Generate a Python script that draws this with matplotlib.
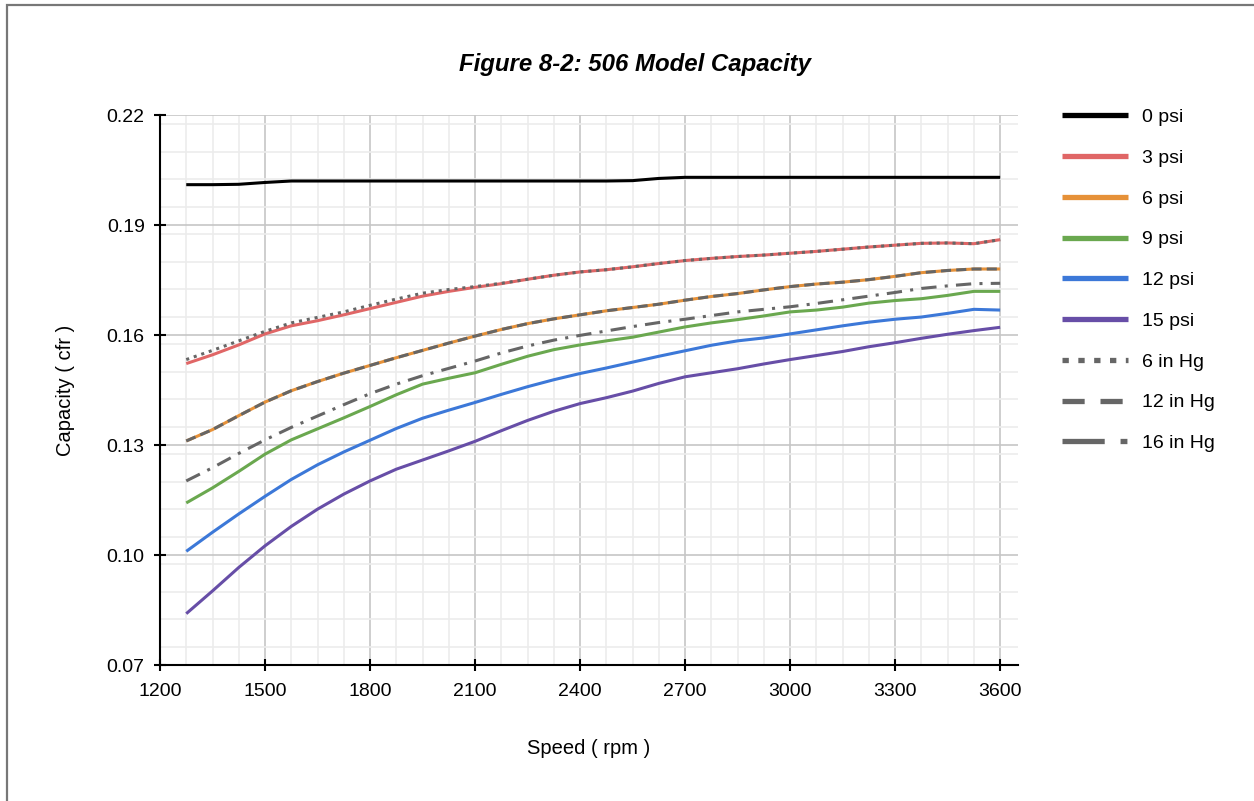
import numpy as np
import matplotlib
matplotlib.use("Agg")
import matplotlib.pyplot as plt
from matplotlib.lines import Line2D
from matplotlib.patches import Rectangle
from matplotlib.ticker import MultipleLocator

plt.rcParams['font.family'] = ['Liberation Sans', 'DejaVu Sans']

# speed (rpm)
rpm = [1275, 1350, 1425, 1500, 1575, 1650, 1725, 1800, 1875, 1950, 2025,
       2100, 2175, 2250, 2325, 2400, 2475, 2550, 2625, 2700, 2775, 2850,
       2925, 3000, 3075, 3150, 3225, 3300, 3375, 3450, 3525, 3600]

# capacity (cfr) per boost / vacuum level
psi_0 = [0.2010, 0.2010, 0.2011, 0.2016, 0.2020, 0.2020, 0.2020, 0.2020, 0.2020, 0.2020, 0.2020,
         0.2020, 0.2020, 0.2020, 0.2020, 0.2020, 0.2020, 0.2021, 0.2027, 0.2030, 0.2030, 0.2030,
         0.2030, 0.2030, 0.2030, 0.2030, 0.2030, 0.2030, 0.2030, 0.2030, 0.2030, 0.2030]
psi_3 = [0.1522, 0.1546, 0.1573, 0.1603, 0.1625, 0.1639, 0.1655, 0.1672, 0.1689, 0.1706, 0.1719,
         0.1730, 0.1740, 0.1752, 0.1763, 0.1772, 0.1778, 0.1786, 0.1795, 0.1803, 0.1809, 0.1814,
         0.1818, 0.1823, 0.1828, 0.1834, 0.1840, 0.1845, 0.1850, 0.1851, 0.1849, 0.1860]
psi_6 = [0.1311, 0.1342, 0.1380, 0.1417, 0.1448, 0.1473, 0.1496, 0.1517, 0.1538, 0.1558, 0.1578,
         0.1597, 0.1615, 0.1631, 0.1644, 0.1655, 0.1666, 0.1675, 0.1684, 0.1695, 0.1705, 0.1713,
         0.1723, 0.1732, 0.1739, 0.1744, 0.1751, 0.1760, 0.1770, 0.1776, 0.1780, 0.1780]
psi_9 = [0.1142, 0.1183, 0.1228, 0.1275, 0.1314, 0.1344, 0.1374, 0.1405, 0.1437, 0.1466, 0.1482,
         0.1497, 0.1520, 0.1542, 0.1560, 0.1573, 0.1584, 0.1594, 0.1608, 0.1622, 0.1633, 0.1642,
         0.1652, 0.1663, 0.1668, 0.1676, 0.1687, 0.1694, 0.1699, 0.1708, 0.1719, 0.1719]
psi_12 = [0.1010, 0.1062, 0.1112, 0.1160, 0.1206, 0.1246, 0.1281, 0.1313, 0.1345, 0.1373, 0.1395,
          0.1416, 0.1438, 0.1459, 0.1478, 0.1495, 0.1510, 0.1526, 0.1542, 0.1557, 0.1572, 0.1584,
          0.1592, 0.1603, 0.1614, 0.1625, 0.1635, 0.1643, 0.1649, 0.1659, 0.1670, 0.1668]
psi_15 = [0.0840, 0.0902, 0.0966, 0.1025, 0.1078, 0.1125, 0.1166, 0.1202, 0.1234, 0.1259, 0.1284,
          0.1310, 0.1339, 0.1367, 0.1392, 0.1413, 0.1429, 0.1447, 0.1468, 0.1486, 0.1497, 0.1508,
          0.1521, 0.1533, 0.1544, 0.1555, 0.1568, 0.1579, 0.1591, 0.1602, 0.1612, 0.1621]
hg_6 = [0.1533, 0.1558, 0.1584, 0.1610, 0.1633, 0.1648, 0.1663, 0.1681, 0.1698, 0.1714, 0.1724,
        0.1732, 0.1741, 0.1752, 0.1763, 0.1772, 0.1778, 0.1786, 0.1795, 0.1803, 0.1809, 0.1814,
        0.1818, 0.1823, 0.1828, 0.1834, 0.1840, 0.1845, 0.1850, 0.1851, 0.1849, 0.1860]
hg_12 = [0.1311, 0.1342, 0.1380, 0.1417, 0.1448, 0.1473, 0.1496, 0.1517, 0.1538, 0.1558, 0.1578,
         0.1597, 0.1615, 0.1631, 0.1644, 0.1655, 0.1666, 0.1675, 0.1684, 0.1695, 0.1705, 0.1713,
         0.1723, 0.1732, 0.1739, 0.1744, 0.1751, 0.1760, 0.1770, 0.1776, 0.1780, 0.1780]
hg_16 = [0.1202, 0.1238, 0.1277, 0.1314, 0.1348, 0.1379, 0.1410, 0.1440, 0.1466, 0.1489, 0.1509,
         0.1529, 0.1551, 0.1570, 0.1586, 0.1599, 0.1611, 0.1623, 0.1634, 0.1643, 0.1653, 0.1663,
         0.1670, 0.1677, 0.1686, 0.1696, 0.1706, 0.1716, 0.1727, 0.1734, 0.1740, 0.1741]

solid = [("0 psi", psi_0, "#000000"), ("3 psi", psi_3, "#e06666"), ("6 psi", psi_6, "#e69138"),
         ("9 psi", psi_9, "#6aa84f"), ("12 psi", psi_12, "#3c78d8"), ("15 psi", psi_15, "#674ea7")]
gray = "#666666"
vac = [("6 in Hg", hg_6, (0, (1, 1.6))), ("12 in Hg", hg_12, (0, (3.3, 1.7))),
       ("16 in Hg", hg_16, (0, (5, 2.7, 1, 2.7)))]
legend_dashes = [(0, (1.2, 1.8)), (0, (4.2, 3.0)), (0, (8.0, 3.0, 1.3, 6))]

fig = plt.figure(figsize=(12.54, 8.01), dpi=100)
ax = fig.add_axes([160/1254, 1 - 665/801, (1018-160)/1254, (665-115)/801])

lw = 2.2
for name, vals, col in solid:
    ax.plot(rpm, vals, color=col, lw=lw, solid_capstyle='butt', solid_joinstyle='round', zorder=3)
for name, vals, ls in vac:
    ax.plot(rpm, vals, color=gray, lw=lw, linestyle=ls, dash_capstyle='butt', zorder=4)

ax.set_xlim(1200, 3651)
ax.set_ylim(0.07, 0.22)
ax.xaxis.set_major_locator(MultipleLocator(300))
ax.xaxis.set_minor_locator(MultipleLocator(75))
ax.set_yticks(np.round(np.arange(0.07, 0.2201, 0.03), 2))
ax.yaxis.set_minor_locator(MultipleLocator(0.0075))
ax.yaxis.set_major_formatter(plt.FormatStrFormatter('%.2f'))
ax.grid(which='major', color='#c6c6c6', lw=1.2, zorder=1)
ax.grid(which='minor', color='#ececec', lw=1.2, zorder=0)
ax.set_axisbelow(True)
ax.tick_params(which='major', direction='inout', length=8, width=1.5, color='black', labelsize=14, pad=7)
ax.tick_params(axis='x', pad=9)
ax.tick_params(which='minor', length=0)
for s in ['top', 'right']:
    ax.spines[s].set_visible(False)
for s in ['left', 'bottom']:
    ax.spines[s].set_linewidth(1.5)
    ax.spines[s].set_zorder(5)

ax.set_xlabel("Speed ( rpm )", fontsize=14.5, labelpad=28)
ax.set_ylabel("Capacity ( cfr )", fontsize=14.5, labelpad=23)
fig.text(635/1254, 1 - 64/801, "Figure 8-2: 506 Model Capacity", ha='center', va='center',
         fontsize=17.3, fontweight='bold', fontstyle='italic')

handles = [Line2D([], [], color=c, lw=3.8, solid_capstyle='butt') for _, _, c in solid]
handles += [Line2D([], [], color=gray, lw=3.8, linestyle=ls, dash_capstyle='butt') for ls in legend_dashes]
labels = [n for n, _, _ in solid] + [n for n, _, _ in vac]
fig.legend(handles, labels, loc='upper left', bbox_to_anchor=(1044/1254, 1 - 91/801),
           frameon=False, fontsize=14, handlelength=3.4, handletextpad=0.75, labelspacing=1.19)

fig.patches.append(Rectangle((7/1254, -0.05), 1.1, 1 - 5/801 + 0.05, transform=fig.transFigure,
                             fill=False, edgecolor='#777777', lw=1.6))

fig.savefig("out.png", dpi=100)
